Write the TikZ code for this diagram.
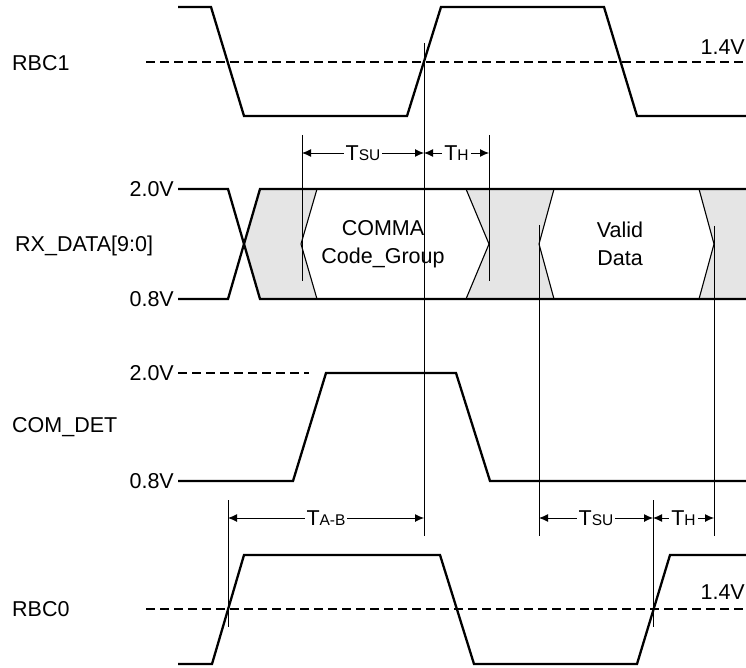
\documentclass[tikz,border=0pt]{standalone}
\usepackage{fontspec}
\setmainfont{Liberation Sans}
\usetikzlibrary{arrows.meta}
\newcommand{\tsub}[1]{{\fontsize{15.5}{15.5}\selectfont #1}}

\begin{document}
\begin{tikzpicture}[x=1pt,y=-1pt,
  wave/.style={line width=2.3pt,line join=miter},
  guide/.style={line width=0.9pt},
  hexside/.style={line width=1.1pt},
  level/.style={line width=1.3pt,dash pattern=on 9pt off 5pt},
  dim/.style={line width=0.9pt,{Latex[length=9pt,width=8pt]}-{Latex[length=9pt,width=8pt]}},
  lbl/.style={font=\fontsize{21.5}{28}\selectfont,inner sep=0pt},
  tlbl/.style={lbl,fill=white,inner xsep=2pt},
  shade/.style={fill=black!10}]
  \useasboundingbox (0,0) rectangle (746,668);
  % signal names
  \node[lbl,anchor=base west] (rbcone) at (12,70.5) {RBC1};
  \node[lbl,anchor=base west] (rxdata) at (15,251.5) {RX\_DATA[9:0]};
  \node[lbl,anchor=base west] (comdet) at (12,432.5) {COM\_DET};
  \node[lbl,anchor=base west] (rbczero) at (12,616.5) {RBC0};
  % levels
  \node[lbl,anchor=base east] (rxhigh) at (174,196.5) {2.0V};
  \node[lbl,anchor=base east] (rxlow) at (174,306.5) {0.8V};
  \node[lbl,anchor=base east] (comhigh) at (174,380.5) {2.0V};
  \node[lbl,anchor=base east] (comlow) at (174,488.5) {0.8V};
  \node[lbl,anchor=base east] (thrtop) at (745,54.5) {1.4V};
  \node[lbl,anchor=base east] (thrbot) at (745,599.5) {1.4V};
  % data eyes
  \fill[shade] (244,244) -- (260,189) -- (317,189) -- (301,244) -- (317,299) -- (260,299) -- cycle;
  \fill[shade] (466,189) -- (554,189) -- (539,244) -- (554,299) -- (466,299) -- (489,244) -- cycle;
  \fill[shade] (699,189) -- (746,189) -- (746,299) -- (699,299) -- (714,244) -- cycle;
  \draw[hexside] (317,189) -- (301,244) -- (317,299);
  \draw[hexside] (466,189) -- (489,244) -- (466,299);
  \draw[hexside] (554,189) -- (539,244) -- (554,299);
  \draw[hexside] (699,189) -- (714,244) -- (699,299);
  \node[lbl,align=center] (comma) at (383,244) {COMMA\\Code\_Group};
  \node[lbl,align=center] (valid) at (620,244) {Valid\\Data};
  % guide lines
  \draw[guide] (302,135) -- (302,281);
  \draw[guide] (424,43) -- (424,536);
  \draw[guide] (489,135) -- (489,281);
  \draw[guide] (539,225) -- (539,536);
  \draw[guide] (714,226) -- (714,536);
  \draw[guide] (228,500) -- (228,627);
  \draw[guide] (653,500) -- (653,627);
  % waveforms
  \draw[level] (146,62) -- (746,62);
  \draw[wave] (178,7) -- (211,7) -- (244,116) -- (407,116) -- (441,7) -- (604,7) -- (637,116) -- (746,116);
  \draw[wave] (178,189) -- (228,189) -- (260,299) -- (746,299);
  \draw[wave] (178,299) -- (228,299) -- (260,189) -- (746,189);
  \draw[level] (178,373) -- (309,373);
  \draw[wave] (178,481) -- (293,481) -- (326,373) -- (456,373) -- (490,481) -- (746,481);
  \draw[level] (146,609) -- (746,609);
  \draw[wave] (178,664) -- (212,664) -- (244,555) -- (440,555) -- (474,664) -- (637,664) -- (670,555) -- (746,555);
  % timing marks
  \coordinate (sua) at (302,153);
  \coordinate (sub) at (424,153);
  \coordinate (hb) at (489,153);
  \coordinate (aba) at (228,518);
  \coordinate (abb) at (424,518);
  \coordinate (suc) at (539,518);
  \coordinate (sud) at (653,518);
  \coordinate (hd) at (714,518);
  \draw[dim] (sua) -- (sub) node[tlbl,midway] (tsuone) {T\tsub{SU}};
  \draw[dim] (sub) -- (hb) node[tlbl,midway] (thone) {T\tsub{H}};
  \draw[dim] (aba) -- (abb) node[tlbl,midway] (tab) {T\tsub{A-B}};
  \draw[dim] (suc) -- (sud) node[tlbl,midway] (tsutwo) {T\tsub{SU}};
  \draw[dim] (sud) -- (hd) node[tlbl,midway] (thtwo) {T\tsub{H}};
\end{tikzpicture}
\end{document}
